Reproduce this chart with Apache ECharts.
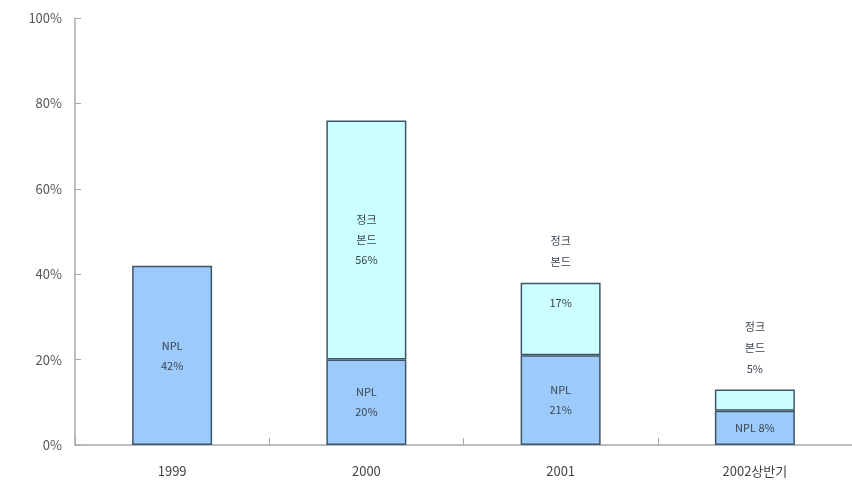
<!DOCTYPE html>
<html>
<head>
<meta charset="utf-8">
<script src="https://cdn.jsdelivr.net/npm/echarts@6/dist/echarts.min.js"></script>
<style>
  html, body { margin: 0; padding: 0; background: #fff; }
  #chart { width: 852px; height: 486px; }
</style>
</head>
<body>
<div id="chart"></div>
<script>
// Share of bad assets by type (%)
const categories = ['1999', '2000', '2001', '2002상반기'];
const nplValues = [42, 20, 21, 8];          // NPL
const junkValues = [null, 56, 17, 5];       // 정크본드
const yTicks = [0, 20, 40, 60, 80, 100];

const FONT = '"Noto Sans CJK KR", "Noto Sans", sans-serif';
const JUNK_NAME = '정크\n본드';

// Where the junk-bond caption goes depends on how tall its segment is
function junkMode(v) {
  if (v == null) return 'none';
  if (v >= 30) return 'inside';
  if (v >= 10) return 'split';
  return 'above';
}

const nplData = nplValues.map(v => ({
  value: v,
  label: {
    formatter: v < 10 ? 'NPL ' + v + '%' : 'NPL\n' + v + '%'
  }
}));

const junkData = junkValues.map(v => {
  const mode = junkMode(v);
  if (mode === 'inside') {
    return { value: v, label: { show: true, position: 'inside', formatter: JUNK_NAME + '\n' + v + '%' } };
  }
  if (mode === 'split') {
    return { value: v, label: { show: true, position: 'insideTop', distance: 10, formatter: v + '%' } };
  }
  return { value: v, label: { show: false } };
});

// Zero-height marks stacked on top, carrying captions drawn above the bars
const captionData = junkValues.map(v => {
  const mode = junkMode(v);
  if (mode === 'split') return { value: 0, label: { show: true, formatter: JUNK_NAME } };
  if (mode === 'above') return { value: 0, label: { show: true, formatter: JUNK_NAME + '\n' + v + '%' } };
  return { value: null };
});

const barBorder = { borderColor: '#3e5666', borderWidth: 1.5 };
const innerLabel = { show: true, position: 'inside', color: '#3a4450', fontSize: 11, lineHeight: 20, fontFamily: FONT };

const chart = echarts.init(document.getElementById('chart'), null, { renderer: 'canvas' });
chart.setOption({
  animation: false,
  backgroundColor: '#ffffff',
  grid: { left: 75, right: -9, top: 18, bottom: 41 },
  xAxis: {
    type: 'category',
    data: categories,
    axisLine: { lineStyle: { color: '#a8a8a8', width: 1.5 } },
    axisTick: { show: true, inside: true, length: 7, interval: 0, lineStyle: { color: '#a8a8a8' } },
    axisLabel: { color: '#444', fontSize: 13, margin: 20, fontFamily: FONT, interval: 0 }
  },
  yAxis: {
    type: 'value',
    min: yTicks[0],
    max: yTicks[yTicks.length - 1],
    interval: yTicks[1] - yTicks[0],
    axisLine: { show: true, lineStyle: { color: '#a8a8a8', width: 1.5 } },
    axisTick: { show: true, inside: true, length: 6, lineStyle: { color: '#a8a8a8' } },
    splitLine: { show: false },
    axisLabel: { color: '#555', fontSize: 13, margin: 13, fontFamily: FONT, formatter: '{value}%' }
  },
  series: [
    {
      name: 'NPL',
      type: 'bar',
      stack: 'total',
      barWidth: 80,
      data: nplData,
      itemStyle: Object.assign({ color: '#9ccbfb' }, barBorder),
      label: innerLabel
    },
    {
      name: '정크본드',
      type: 'bar',
      stack: 'total',
      barWidth: 80,
      data: junkData,
      itemStyle: Object.assign({ color: '#ccffff' }, barBorder),
      label: innerLabel
    },
    {
      name: 'caption',
      type: 'bar',
      stack: 'total',
      barWidth: 80,
      data: captionData,
      itemStyle: { color: 'rgba(0,0,0,0)', borderWidth: 0 },
      label: { show: true, position: 'top', distance: 10, color: '#3a4450', fontSize: 11, lineHeight: 21, fontFamily: FONT }
    }
  ]
});
</script>
</body>
</html>
